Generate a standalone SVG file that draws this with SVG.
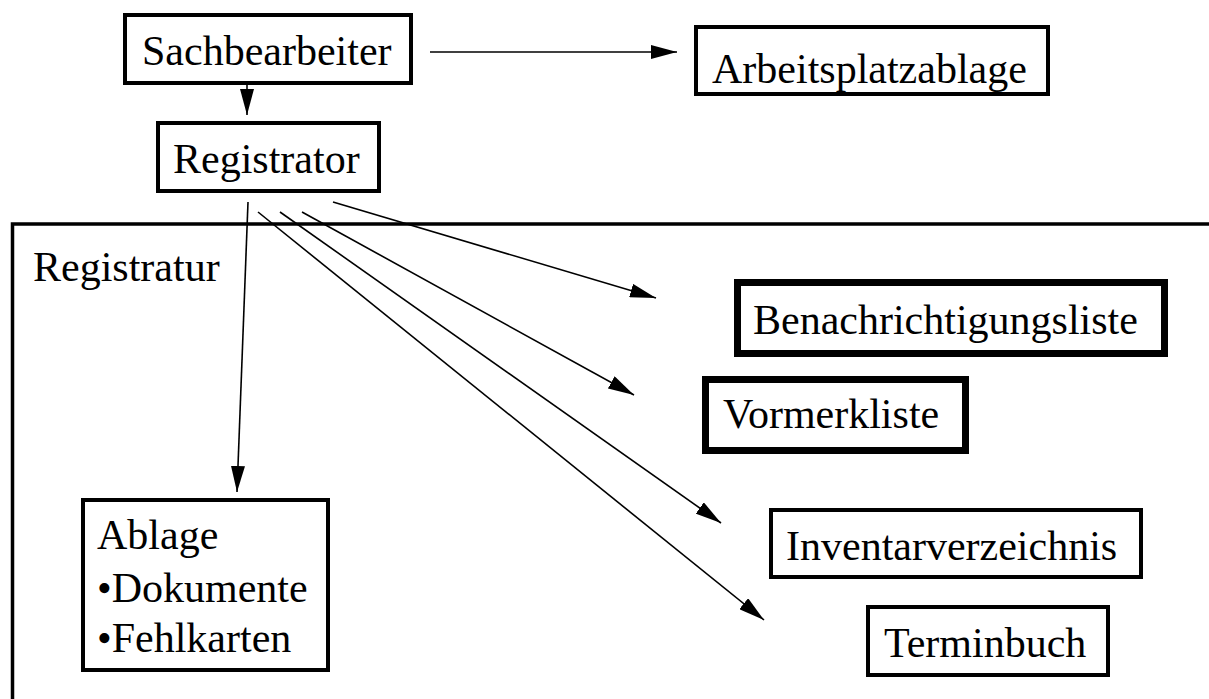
<svg xmlns="http://www.w3.org/2000/svg" width="1209" height="699" viewBox="0 0 1209 699">
  <style>
    .box { fill: #fff; stroke: #000; stroke-width: 4; }
    .bold { stroke-width: 7; }
    .frame { fill: none; stroke: #000; stroke-width: 3.5; }
    .lbl { font-family: "Liberation Serif", "Times New Roman", serif; font-size: 42px; fill: #000; }
    .edge { stroke: #000; stroke-width: 1.6; fill: none; marker-end: url(#head); }
  </style>
  <defs>
    <marker id="head" viewBox="0 0 26 14" refX="26" refY="7" markerWidth="26" markerHeight="14" markerUnits="userSpaceOnUse" orient="auto">
      <path d="M0,0 L26,7 L0,14 Z" fill="#000"/>
    </marker>
  </defs>
  <rect width="1209" height="699" fill="#fff"/>

  <!-- Registratur area -->
  <g id="registratur">
    <rect class="frame" x="12.5" y="224" width="1220" height="500"/>
    <text class="lbl" x="33" y="281">Registratur</text>
  </g>

  <g id="connectors">
    <line class="edge" x1="430" y1="52" x2="677" y2="52"/>
    <line class="edge" x1="247" y1="85" x2="247" y2="115"/>
    <line class="edge" x1="248" y1="202" x2="237" y2="492"/>
    <line class="edge" x1="333" y1="202" x2="656" y2="298"/>
    <line class="edge" x1="302" y1="212" x2="634" y2="395"/>
    <line class="edge" x1="280" y1="212" x2="721" y2="523"/>
    <line class="edge" x1="258" y1="212" x2="764" y2="620"/>
  </g>

  <g id="sachbearbeiter">
    <rect class="box" x="125" y="15" width="286" height="68"/>
    <text class="lbl" x="142" y="65">Sachbearbeiter</text>
  </g>
  <g id="arbeitsplatzablage">
    <rect class="box" x="696" y="27" width="352" height="67"/>
    <text class="lbl" x="712" y="83">Arbeitsplatzablage</text>
  </g>
  <g id="registrator">
    <rect class="box" x="158" y="123" width="221" height="68"/>
    <text class="lbl" x="173" y="173">Registrator</text>
  </g>
  <g id="benachrichtigungsliste">
    <rect class="box bold" x="737.5" y="282.5" width="427" height="71"/>
    <text class="lbl" x="753" y="334">Benachrichtigungsliste</text>
  </g>
  <g id="vormerkliste">
    <rect class="box bold" x="705.5" y="379.5" width="260" height="71"/>
    <text class="lbl" x="723" y="428">Vormerkliste</text>
  </g>
  <g id="ablage">
    <rect class="box" x="83" y="500" width="245" height="170"/>
    <text class="lbl" x="97" y="549">Ablage</text>
    <text class="lbl" x="97" y="602">•Dokumente</text>
    <text class="lbl" x="97" y="652">•Fehlkarten</text>
  </g>
  <g id="inventarverzeichnis">
    <rect class="box" x="771" y="510" width="370" height="67"/>
    <text class="lbl" x="786" y="560">Inventarverzeichnis</text>
  </g>
  <g id="terminbuch">
    <rect class="box" x="868" y="607" width="240" height="68"/>
    <text class="lbl" x="884" y="657">Terminbuch</text>
  </g>
</svg>
